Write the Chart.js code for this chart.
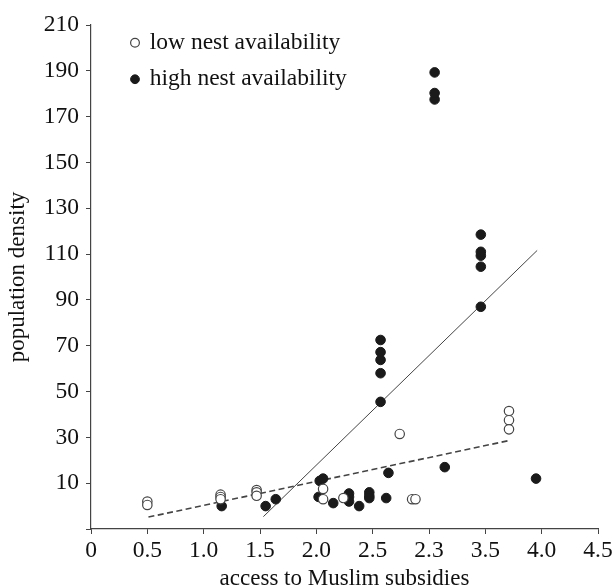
<!DOCTYPE html>
<html>
<head>
<meta charset="utf-8">
<script src="https://cdn.jsdelivr.net/npm/chart.js@4.4.1/dist/chart.umd.min.js"></script>
<style>
  html, body { margin: 0; padding: 0; background: #fff; }
  #wrap { width: 614px; height: 586px; }
</style>
</head>
<body>
<div id="wrap"><canvas id="grafico"></canvas></div>
<script>
// valores
var lowX = [0.5, 0.5, 1.15, 1.15, 1.15, 1.47, 1.47, 1.47, 2.06, 2.06, 2.24, 2.74, 2.85, 2.88, 3.71, 3.71, 3.71];
var lowY = [2, 0.5, 5, 4, 3, 7, 6, 4.5, 7.5, 3, 3.5, 31.5, 3, 3, 41.5, 37.5, 33.5];

var highX = [1.16, 1.55, 1.64, 2.02, 2.03, 2.06, 2.15, 2.29, 2.29, 2.29, 2.38, 2.47, 2.47, 2.47,
             2.57, 2.57, 2.57, 2.57, 2.57, 2.62, 2.64, 3.05, 3.05, 3.05, 3.14,
             3.46, 3.46, 3.46, 3.46, 3.46, 3.95];
var highY = [0, 0, 3, 4, 11, 12, 1.3, 5.5, 4, 2, 0, 6, 4.5, 3.5,
             45.5, 58, 63.8, 67.2, 72.5, 3.5, 14.5, 177.5, 180.3, 189.3, 17,
             87, 104.5, 109.3, 111, 118.5, 12];

// rectas de ajuste (extremos)
var highFitX = [1.53, 3.96];
var highFitY = [-4.6, 111.6];
var lowFitX = [0.51, 3.71];
var lowFitY = [-4.8, 28.6];

var xTickLabels = ['0', '0.5', '1.0', '1.5', '2.0', '2.5', '2.3', '3.5', '4.0', '4.5'];
var seriesNames = ['low nest availability', 'high nest availability'];

function puntos(xs, ys) {
    return xs.map(function(x, i) { return { x: x, y: ys[i] }; });
}

var fuente = "'Liberation Serif', 'Times New Roman', serif";
var negro = '#1a1a1a';

var moverLeyenda = {
    id: 'moverLeyenda',
    afterLayout: function(chart) {
        var lg = chart.legend;
        var p = lg.options.labels.padding;
        lg.left = chart.chartArea.left + 41 - p;
        lg.top = chart.chartArea.top + 6 - p;
    }
};

var ctx = document.getElementById('grafico');
var chart = new Chart(ctx, {
    type: 'scatter',
    data: {
        datasets: [{
            label: seriesNames[0],
            data: puntos(lowX, lowY),
            pointRadius: 4.7,
            pointBorderWidth: 1.2,
            pointBackgroundColor: '#fff',
            pointBorderColor: '#444',
            backgroundColor: '#fff',
            borderColor: '#444'
        }, {
            label: seriesNames[1],
            data: puntos(highX, highY),
            pointRadius: 4.8,
            pointBorderWidth: 1,
            pointBackgroundColor: negro,
            pointBorderColor: negro,
            backgroundColor: negro,
            borderColor: negro
        }, {
            label: 'fit high',
            data: puntos(highFitX, highFitY),
            showLine: true,
            pointRadius: 0,
            borderColor: '#444',
            borderWidth: 1
        }, {
            label: 'fit low',
            data: puntos(lowFitX, lowFitY),
            showLine: true,
            pointRadius: 0,
            borderColor: '#444',
            borderWidth: 1.6,
            borderDash: [6, 3.5]
        }]
    },
    options: {
        responsive: true,
        maintainAspectRatio: false,
        animation: false,
        layout: { padding: { top: 25, right: 16, left: 0, bottom: 0 } },
        plugins: {
            tooltip: { enabled: false },
            legend: {
                position: 'chartArea',
                align: 'start',
                labels: {
                    usePointStyle: true,
                    pointStyle: 'circle',
                    boxWidth: 6,
                    boxHeight: 6.2,
                    padding: 13,
                    color: '#111',
                    font: { family: fuente, size: 23.5 },
                    filter: function(item) { return item.datasetIndex < 2; }
                }
            }
        },
        scales: {
            x: {
                type: 'linear',
                min: 0,
                max: 4.5,
                afterFit: function(scale) {
                    scale.height = 57;
                    scale.paddingLeft = 0;
                    scale.paddingRight = 0;
                },
                grid: { drawOnChartArea: false, drawTicks: true, tickLength: 5, color: '#444' },
                border: { display: true, color: '#444', width: 1.2 },
                ticks: {
                    stepSize: 0.5,
                    autoSkip: false,
                    maxRotation: 0,
                    padding: 3,
                    color: '#111',
                    font: { family: fuente, size: 23.5 },
                    callback: function(value, index) { return xTickLabels[index]; }
                },
                title: {
                    display: true,
                    text: 'access to Muslim subsidies',
                    color: '#111',
                    font: { family: fuente, size: 23 },
                    padding: { top: 0, bottom: -7 }
                }
            },
            y: {
                type: 'linear',
                min: -10,
                max: 210,
                afterFit: function(scale) {
                    scale.width = 91;
                },
                grid: { drawOnChartArea: false, drawTicks: true, tickLength: 5, color: '#444' },
                border: { display: true, color: '#444', width: 1.2 },
                ticks: {
                    stepSize: 20,
                    autoSkip: false,
                    padding: 7,
                    color: '#111',
                    font: { family: fuente, size: 23.5 },
                    callback: function(value) { return value === -10 ? '' : value; }
                },
                title: {
                    display: true,
                    text: 'population density',
                    color: '#111',
                    font: { family: fuente, size: 23 },
                    padding: { top: 4, bottom: 0 }
                }
            }
        }
    },
    plugins: [moverLeyenda]
});
</script>
</body>
</html>
